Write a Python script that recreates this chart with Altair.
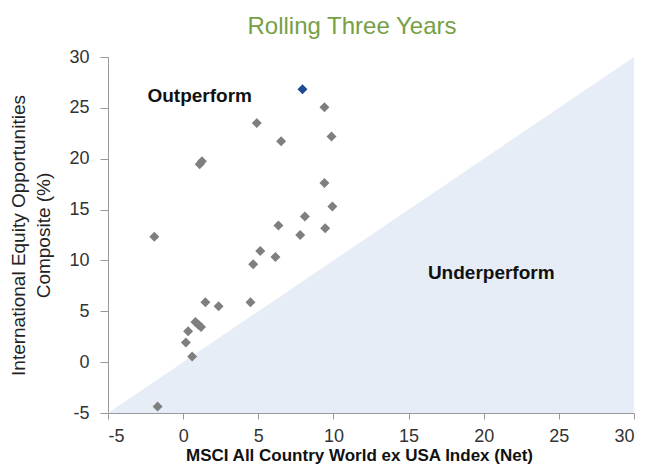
import altair as alt
import pandas as pd

# Data
xs = [7.94, 9.40, 4.90, 6.52, 9.87, 1.10, 1.25, 9.40, 9.93, 8.10, 6.34, 9.45, 7.79, -1.92,
      5.13, 6.14, 4.66, 1.48, 2.36, 4.48, 0.82, 1.00, 1.19, 0.33, 0.18, 0.60, -1.70]
ys = [26.82, 25.07, 23.50, 21.72, 22.18, 19.45, 19.75, 17.61, 15.30, 14.31, 13.43, 13.17, 12.51, 12.34,
      10.93, 10.34, 9.62, 5.89, 5.50, 5.89, 3.95, 3.70, 3.46, 3.03, 1.94, 0.56, -4.37]
latest = [True] + [False] * (len(xs) - 1)

diag_x = [-5, 30]
diag_y = [-5, 30]

label_text = ["Outperform", "Underperform"]
label_x = [1.1, 20.5]
label_y = [26.2, 8.75]

pts = pd.DataFrame({"x": xs, "y": ys, "latest": latest})
diag = pd.DataFrame({"x": diag_x, "y": diag_y, "y2": [-5, -5]})
labels = pd.DataFrame({"text": label_text, "x": label_x, "y": label_y})

xscale = alt.Scale(domain=[-5, 30], nice=False, zero=False)
yscale = alt.Scale(domain=[-5, 30], nice=False, zero=False)

xaxis = alt.Axis(values=list(range(-5, 31, 5)), title="MSCI All Country World ex USA Index (Net)",
                 labelExpr="'' + datum.value",
                 grid=False, domainColor="#999999", tickColor="#999999", tickSize=6,
                 labelFontSize=18, labelColor="#333333", labelFont="Liberation Sans",
                 labelPadding=8, titleFontSize=17, titleFont="Liberation Sans", titleFontWeight="bold",
                 titleColor="#111111", titlePadding=2, titleX=251)
yaxis = alt.Axis(values=list(range(-5, 31, 5)),
                 title=["International Equity Opportunities", "Composite (%)"],
                 labelExpr="'' + datum.value",
                 grid=False, domainColor="#999999", tickColor="#999999", tickSize=8,
                 labelFontSize=18, labelColor="#333333", labelFont="Liberation Sans",
                 labelPadding=11, titleFontSize=19, titleFont="Liberation Sans", titleFontWeight="normal",
                 titleColor="#222222", titlePadding=15, titleLineHeight=25)

area = alt.Chart(diag).mark_area(color="#E7EDF6", opacity=1).encode(
    x=alt.X("x:Q", scale=xscale, axis=xaxis),
    y=alt.Y("y:Q", scale=yscale, axis=yaxis),
    y2="y2:Q",
)

points = alt.Chart(pts).mark_point(shape="diamond", filled=True, size=100, opacity=1).encode(
    x=alt.X("x:Q", scale=xscale),
    y=alt.Y("y:Q", scale=yscale),
    color=alt.Color("latest:N", scale=alt.Scale(domain=[False, True], range=["#7F7F7F", "#1F4A94"]), legend=None),
    order=alt.Order("latest:N"),
)

text = alt.Chart(labels).mark_text(fontSize=19, fontWeight="bold", font="Liberation Sans", color="#111111").encode(
    x=alt.X("x:Q", scale=xscale),
    y=alt.Y("y:Q", scale=yscale),
    text="text:N",
)

chart = alt.layer(area, points, text).properties(
    width=526,
    height=356,
    title=alt.TitleParams("Rolling Three Years", color="#76A044", fontSize=24, font="Liberation Sans",
                          fontWeight="normal", anchor="middle", dx=-19, offset=9),
    autosize=alt.AutoSizeParams(type="none"),
    padding={"left": 100, "top": 49, "right": 8, "bottom": 56},
).configure_view(stroke=None)

chart.save("out.html", embed_options={"renderer": "svg", "actions": False})
